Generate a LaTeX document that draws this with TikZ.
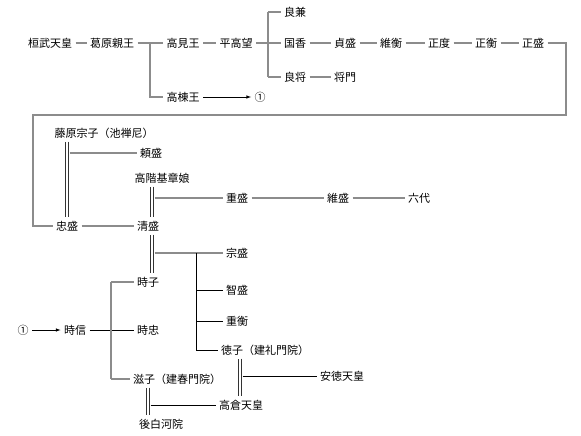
\documentclass[tikz,border=0pt]{standalone}
\usepackage{fontspec}
\setmainfont{Noto Sans CJK JP}
\usepackage{tikz}
\usetikzlibrary{arrows, positioning, calc}

\tikzset{
  nm/.style={inner sep=0pt, outer sep=3.5pt, font=\fontsize{11}{13}\selectfont},
  ln/.style={draw=gray!90, line width=1.1pt},
  thn/.style={draw=black, line width=0.6pt},
  dbl/.style={draw=black!80, double, double distance=2.6pt, line width=0.6pt},
  arr/.style={draw=black, line width=0.6pt, -latex}
}

\begin{document}
\begin{tikzpicture}[x=1pt, y=-1pt]
    \useasboundingbox (0,0) rectangle (581,436);
    % first rows
    \node[nm] (kanmu) at (50,43) {桓武天皇};
    \node[nm] (kazu) at (112,43) {葛原親王};
    \node[nm] (takami) at (183,43) {高見王};
    \node[nm] (takamochi) at (236,43) {平高望};
    \node[nm] (yoshikane) at (295,12) {良兼};
    \node[nm] (kunika) at (295,43) {国香};
    \node[nm] (yoshimochi) at (295,77) {良将};
    \node[nm] (masakado) at (345,77) {将門};
    \node[nm] (sadamori) at (345,43) {貞盛};
    \node[nm] (korehira) at (391,43) {維衡};
    \node[nm] (masanori) at (439,43) {正度};
    \node[nm] (masahira) at (486,43) {正衡};
    \node[nm] (masamori) at (533,43) {正盛};
    \node[nm] (takamune) at (183,97) {高棟王};
    \node[nm] (mark1) at (260,97) {①};
    \coordinate (k1) at (150,43);
    \coordinate (k2) at (268,43);
    \coordinate (r1) at (566,43);
    \coordinate (r2) at (566,115);
    \coordinate (r3) at (33,115);
    \coordinate (r4) at (33,226);
    \draw[ln] (kanmu) -- (kazu);
    \draw[ln] (kazu) -- (takami);
    \draw[ln] (k1) |- (takamune);
    \draw[arr] (takamune) -- (mark1);
    \draw[ln] (takami) -- (takamochi);
    \draw[ln] (takamochi) -- (k2);
    \draw[ln] (k2 |- yoshikane) -- (k2 |- yoshimochi);
    \draw[ln] (k2 |- yoshikane) -- (yoshikane);
    \draw[ln] (k2) -- (kunika);
    \draw[ln] (k2 |- yoshimochi) -- (yoshimochi);
    \draw[ln] (yoshimochi) -- (masakado);
    \draw[ln] (kunika) -- (sadamori);
    \draw[ln] (sadamori) -- (korehira);
    \draw[ln] (korehira) -- (masanori);
    \draw[ln] (masanori) -- (masahira);
    \draw[ln] (masahira) -- (masamori);

    % Taira
    \node[nm] (muneko) at (104,133) {藤原宗子（池禅尼）};
    \node[nm] (yorimori) at (151,153) {頼盛};
    \node[nm] (tadamori) at (67,226) {忠盛};
    \node[nm] (kiyomori) at (148,226) {清盛};
    \node[nm] (takashina) at (162,178) {高階基章娘};
    \node[nm] (shigemori) at (237,198) {重盛};
    \node[nm] (koremori) at (338,198) {維盛};
    \node[nm] (rokudai) at (419,198) {六代};
    \draw[ln] (masamori) -- (r1) -- (r2) -- (r3) -- (r4) -- (tadamori);
    \draw[ln] (tadamori) -- (kiyomori);
    \draw[dbl] (tadamori.north |- muneko.south) -- (tadamori.north);
    \draw[ln] ([xshift=2.5pt]tadamori.north |- yorimori) -- (yorimori);
    \draw[dbl] ([xshift=4pt]kiyomori.north |- takashina.south) -- ([xshift=4pt]kiyomori.north);
    \draw[ln] ([xshift=6.5pt]kiyomori.north |- shigemori) -- (shigemori);
    \draw[ln] (shigemori) -- (koremori);
    \draw[ln] (koremori) -- (rokudai);

    % children of Kiyomori
    \node[nm] (munemori) at (237,253) {宗盛};
    \node[nm] (tomomori) at (237,290) {智盛};
    \node[nm] (shigehira) at (237,321) {重衡};
    \node[nm] (tokuko) at (265,350) {徳子（建礼門院）};
    \node[nm] (antoku) at (342,376) {安徳天皇};
    \node[nm] (takakura) at (241,405) {高倉天皇};
    \node[nm] (tokiko) at (148,282) {時子};
    \node[nm] (tokinobu) at (75,330) {時信};
    \node[nm] (mark2) at (23,330) {①};
    \node[nm] (tokitada) at (148,330) {時忠};
    \node[nm] (shigeko) at (177,379) {滋子（建春門院）};
    \node[nm] (goshirakawa) at (161,424) {後白河院};
    \coordinate (c1) at (196,253);
    \coordinate (c2) at (111,330);
    \draw[dbl] ([xshift=4pt]kiyomori.south) -- ([xshift=4pt]kiyomori.south |- tokiko.north);
    \draw[ln] ([xshift=6.5pt]kiyomori.south |- munemori) -- (munemori);
    \draw[thn] (c1) |- (tokuko);
    \draw[thn] (c1 |- tomomori) -- (tomomori);
    \draw[thn] (c1 |- shigehira) -- (shigehira);
    \draw[dbl] ([xshift=-25pt]tokuko.south) -- ([xshift=-25pt]tokuko.south |- takakura.north);
    \draw[thn] ([xshift=-22.5pt]tokuko.south |- antoku) -- (antoku);
    \draw[arr] (mark2) -- (tokinobu);
    \draw[thn] (tokinobu) -- (tokitada);
    \draw[ln] (c2 |- tokiko) -- (c2 |- shigeko);
    \draw[ln] (c2 |- tokiko) -- (tokiko);
    \draw[ln] (c2 |- shigeko) -- (shigeko);
    \draw[dbl] ([xshift=-29pt]shigeko.south) -- ([xshift=-29pt]shigeko.south |- goshirakawa.north);
    \draw[thn] ([xshift=-26.5pt]shigeko.south |- takakura) -- (takakura);
\end{tikzpicture}
\end{document}
